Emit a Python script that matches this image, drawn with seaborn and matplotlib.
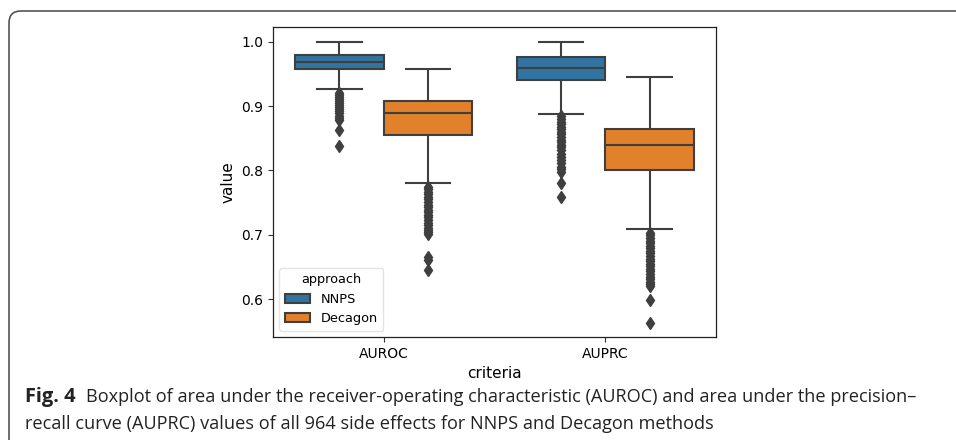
import numpy as np
import pandas as pd
import matplotlib
matplotlib.use("Agg")
import matplotlib.pyplot as plt
import seaborn as sns
from matplotlib.patches import FancyBboxPatch

# five-number summaries: lower whisker, q1, median, q3, upper whisker
auroc_nnps_box = [0.926, 0.957, 0.969, 0.980, 1.000]
auroc_decagon_box = [0.780, 0.855, 0.889, 0.908, 0.957]
auprc_nnps_box = [0.887, 0.940, 0.960, 0.976, 1.000]
auprc_decagon_box = [0.709, 0.801, 0.839, 0.865, 0.946]

# outliers (diamonds) below the lower whiskers
auroc_nnps_out = [0.921, 0.918, 0.914, 0.911, 0.908, 0.905, 0.902, 0.899, 0.895, 0.892,
                  0.889, 0.885, 0.882, 0.879, 0.863, 0.838]
auroc_decagon_out = [0.774, 0.771, 0.767, 0.763, 0.759, 0.755, 0.751, 0.747, 0.743, 0.739,
                     0.735, 0.731, 0.727, 0.723, 0.719, 0.715, 0.711, 0.707, 0.704, 0.701,
                     0.666, 0.661, 0.645]
auprc_nnps_out = [0.884, 0.880, 0.876, 0.872, 0.868, 0.864, 0.860, 0.856, 0.852, 0.848,
                  0.844, 0.840, 0.836, 0.832, 0.826, 0.821, 0.816, 0.811, 0.806, 0.802,
                  0.798, 0.780, 0.759]
auprc_decagon_out = [0.703, 0.699, 0.695, 0.691, 0.687, 0.683, 0.679, 0.675, 0.671, 0.667,
                     0.663, 0.659, 0.655, 0.651, 0.647, 0.643, 0.639, 0.635, 0.631, 0.627,
                     0.623, 0.620, 0.599, 0.563]

criteria = ["AUROC", "AUPRC"]
approaches = ["NNPS", "Decagon"]
colors = ["#1f77b4", "#ff7f0e"]

caption_bold = "Fig. 4"
caption_1 = ("Boxplot of area under the receiver-operating characteristic (AUROC) "
             "and area under the precision\u2013")
caption_2 = "recall curve (AUPRC) values of all 964 side effects for NNPS and Decagon methods"


def sample(box, out, rep=40):
    # repeat the summary values so the quartiles land on them exactly
    lo, q1, med, q3, hi = box
    return list(out) + [lo] + [q1] * rep + [med] * rep + [q3] * rep + [hi]


groups = {
    ("AUROC", "NNPS"): sample(auroc_nnps_box, auroc_nnps_out),
    ("AUROC", "Decagon"): sample(auroc_decagon_box, auroc_decagon_out),
    ("AUPRC", "NNPS"): sample(auprc_nnps_box, auprc_nnps_out),
    ("AUPRC", "Decagon"): sample(auprc_decagon_box, auprc_decagon_out),
}
rows = []
for (crit, appr), vals in groups.items():
    for v in vals:
        rows.append({"criteria": crit, "approach": appr, "value": v})
df = pd.DataFrame(rows)

W, H = 956, 440
fig = plt.figure(figsize=(W / 100, H / 100), dpi=100)
ax = fig.add_axes([273 / W, 1 - 337 / H, 443 / W, 310 / H])

sns.boxplot(data=df, x="criteria", y="value", hue="approach",
            order=criteria, hue_order=approaches, palette=colors,
            saturation=0.75, linecolor="#3f3f3f", linewidth=1.5, ax=ax,
            flierprops=dict(marker="d", markerfacecolor="#3f3f3f",
                            markeredgecolor="#3f3f3f", markersize=6.5))

ax.set_ylim(0.541, 1.023)
ax.set_yticks([0.6, 0.7, 0.8, 0.9, 1.0])
ax.tick_params(labelsize=10, color="#333333")
ax.set_xlabel("criteria", fontsize=11)
ax.set_ylabel("value", fontsize=11)
for s in ax.spines.values():
    s.set_linewidth(0.9)
    s.set_color("#222222")

leg = ax.legend(title="approach", loc="lower left", fontsize=9.3, title_fontsize=9.3,
                frameon=True)
leg.get_frame().set_edgecolor("#dddddd")

# rounded frame around the figure panel
frame = FancyBboxPatch((0.09, -0.5), 11.0, 4.29 + 0.5,
                       boxstyle="round,pad=0,rounding_size=0.12",
                       transform=fig.dpi_scale_trans, facecolor="none",
                       edgecolor="#555555", linewidth=1.2, clip_on=False)
fig.add_artist(frame)

# caption, sized so each line spans the same width as in the original
cap_font = "Open Sans"
renderer = fig.canvas.get_renderer()


def fit_text(x0, x1, y, s, **kw):
    t = fig.text(x0 / W, 1 - y / H, s, fontsize=11, family=cap_font,
                 va="center", ha="left", color="#222222", **kw)
    w = t.get_window_extent(renderer).width
    t.set_fontsize(11 * (x1 - x0) / w)
    return t


fit_text(25, 76, 397, caption_bold, fontweight="bold")
t1 = fit_text(86, 918, 397, caption_1)
t2 = fig.text(25 / W, 1 - 424 / H, caption_2, fontsize=t1.get_fontsize(),
              family=cap_font, va="center", ha="left", color="#222222")

fig.savefig("out.png", dpi=100)
